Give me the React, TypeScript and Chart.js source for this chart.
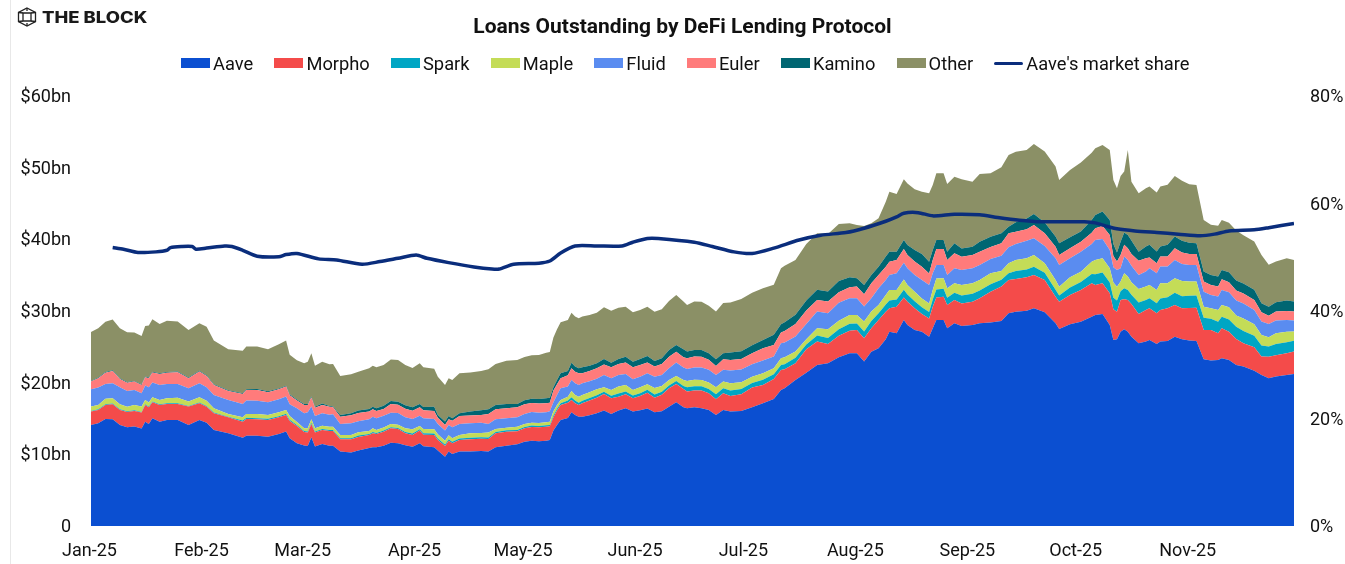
import React, { useEffect, useRef } from "react";
import { Chart, registerables } from "chart.js";

Chart.register(...registerables);

const title = "Loans Outstanding by DeFi Lending Protocol";
const monthLabels = ["Jan-25", "Feb-25", "Mar-25", "Apr-25", "May-25", "Jun-25", "Jul-25", "Aug-25", "Sep-25", "Oct-25", "Nov-25"];
const monthStartDays = [0, 31, 59, 90, 120, 151, 181, 212, 243, 273, 304];

// Days since 1 Jan 2025
const days = [
  0,2,4,6,8,10,12,14,15,16,17,19,21,24,27,30,32,34,38,42,43,46,49,52,54,
  55,57,59,60,61,62,64,66,67,69,72,74,77,78,79,81,83,85,87,89,91,92,95,96,98,99,100,102,105,108,
  110,112,115,118,120,122,124,126,127,128,129,130,132,133,134,135,136,138,140,142,144,146,148,150,152,154,156,158,160,162,164,
  165,167,169,171,173,175,177,180,183,186,189,191,192,195,198,201,204,207,210,212,214,216,218,
  220,221,223,225,226,228,230,232,233,234,236,237,239,241,244,246,249,252,254,256,259,261,264,267,268,271,274,277,
  278,280,282,283,284,285,286,287,288,290,292,293,295,296,298,300,302,304,306,308,310,312,313,315,317,319,322,324,326,328,331,333,
];

const aave = [
  14.1,14.33,14.93,14.89,14.1,13.77,13.87,13.59,14.56,14.24,15.03,14.56,14.8,14.8,14.1,14.8,14.42,13.4,12.93,12.33,12.61,12.61,12.47,12.84,13.17,
  12.24,11.54,11.22,11.17,12.38,11.08,11.45,11.21,11.21,10.38,10.24,10.52,10.89,10.98,10.98,11.21,11.63,11.54,11.26,11.07,11.54,11.12,10.98,10.52,9.68,10.38,10.05,10.38,10.38,10.47,
  10.38,10.98,11.21,11.4,11.77,11.91,11.82,11.91,12.0,13.31,14.1,14.8,15.07,15.86,15.49,15.26,15.26,15.45,15.72,16.1,15.63,16.1,16.42,15.96,16.14,16.38,15.86,16.0,16.65,17.26,16.56,
  16.43,16.57,16.43,16.2,15.5,16.2,15.96,16.05,16.57,17.13,17.73,18.99,19.22,20.38,21.4,22.47,22.7,23.54,24.1,24.1,22.94,24.33,24.8,
  26.05,27.11,26.88,28.74,28.04,27.35,27.11,26.41,27.58,28.74,28.74,27.58,28.28,27.9,28.04,28.28,28.38,28.61,29.68,29.91,30.05,30.38,29.82,28.28,27.49,28.15,28.51,29.21,
  29.45,29.59,28.05,25.96,26.05,27.12,27.45,27.12,26.42,25.49,25.73,25.96,25.4,25.73,25.82,26.42,26.05,25.87,25.82,23.26,23.08,23.17,23.4,23.17,22.47,22.24,21.68,21.08,20.61,20.85,21.08,21.22,
];

const morpho = [
  1.86,1.86,1.95,2.09,2.09,2.14,2.19,2.23,2.33,2.33,2.23,2.33,2.23,2.23,2.56,2.33,2.23,2.33,2.23,2.23,2.33,2.28,2.33,2.33,2.33,
  2.42,2.42,1.91,1.86,1.86,1.95,1.95,2.05,2.05,1.72,1.86,1.91,1.81,1.95,1.86,1.95,2.0,2.0,1.67,1.63,1.77,1.63,1.72,1.49,1.49,1.53,1.49,1.63,1.72,1.72,
  1.77,1.95,1.95,1.81,1.86,1.91,1.95,1.95,1.91,1.86,2.0,2.09,2.14,1.72,1.63,1.63,1.86,2.05,2.19,2.33,2.19,1.95,1.95,1.86,2.0,2.23,2.05,2.33,2.56,2.56,2.56,
  2.33,2.33,2.46,2.33,2.19,2.33,2.19,2.33,2.74,2.56,2.79,2.79,2.65,2.33,3.26,3.26,2.7,3.02,3.16,3.26,3.26,3.26,3.95,
  3.86,3.26,3.72,3.16,3.26,3.02,2.46,2.56,3.02,3.16,3.26,3.26,3.26,3.16,3.26,3.49,4.3,4.8,4.65,4.56,4.65,4.65,4.51,3.72,3.81,4.09,4.42,4.65,
  4.19,4.28,4.42,4.28,3.86,4.42,4.19,4.42,4.56,4.09,4.42,4.42,4.28,4.42,4.56,4.42,4.32,4.56,4.65,4.09,4.28,3.72,4.19,3.95,3.63,3.26,3.26,2.56,3.02,2.98,3.02,3.12,
];

const spark = [
  .1,.1,.1,.1,.1,.1,.1,.1,.1,.1,.1,.1,.1,.1,.1,.1,.1,.1,.1,.15,.15,.15,.15,.15,.15,
  .15,.12,.12,.15,.15,.15,.15,.15,.15,.15,.15,.2,.15,.2,.15,.15,.15,.15,.2,.2,.2,.2,.2,.2,.2,.2,.2,.2,.2,.2,
  .2,.2,.2,.2,.2,.2,.2,.2,.2,.25,.25,.25,.3,.4,.4,.3,.35,.35,.35,.3,.35,.45,.4,.4,.4,.4,.45,.4,.4,.4,.4,
  .6,.6,.6,.6,.7,.7,.75,.75,.65,.7,.65,.7,.7,.75,.65,.85,.85,.9,.95,.9,.95,1.0,.95,
  1.0,1.1,1.0,1.05,1.0,1.0,.95,.9,1.0,1.1,1.1,1.0,1.0,1.1,1.1,1.1,1.05,.95,.95,1.1,1.1,1.15,1.0,.95,.85,1.05,1.1,1.3,
  1.5,1.5,1.5,1.6,1.55,1.2,1.55,1.4,1.3,1.6,1.4,1.4,1.4,1.6,1.55,1.7,1.7,1.7,1.7,1.7,1.55,1.6,1.6,1.7,1.7,1.7,1.6,1.55,1.4,1.55,1.55,1.5,
];

const maple = [
  .6,.6,.78,.74,.69,.64,.74,.74,.6,.55,.6,.6,.69,.78,.6,.74,.74,.6,.37,.45,.55,.59,.55,.55,.55,
  .55,.44,.39,.45,.5,.45,.45,.45,.45,.45,.45,.45,.41,.5,.41,.45,.45,.45,.5,.59,.45,.59,.59,.59,.54,.54,.5,.5,.64,.59,
  .68,.4,.36,.45,.4,.4,.4,.4,.45,.59,.54,.45,.54,.86,.76,.86,.81,.81,.81,.63,.81,.95,.9,.76,.81,.76,.9,.81,.76,.72,.86,
  .89,.89,.89,.89,.97,.93,1.02,.92,.88,.93,.84,.93,.97,.88,.75,1.01,1.2,1.19,1.24,1.19,1.38,1.33,1.14,
  1.33,1.46,1.33,1.46,1.33,1.33,1.24,1.19,1.33,1.55,1.46,1.33,1.33,1.46,1.46,1.46,1.53,1.22,1.38,1.55,1.55,1.64,1.33,1.38,1.24,1.41,1.46,1.72,
  1.99,1.99,1.99,2.12,1.94,1.36,2.08,1.86,1.72,1.89,1.86,1.86,1.86,2.12,1.94,2.02,2.11,1.97,1.93,1.56,1.47,1.66,1.66,1.69,1.56,1.74,1.61,1.47,1.3,1.52,1.47,1.29,
];

const fluid = [
  2.42,2.42,2.05,2.09,2.37,2.19,2.09,1.86,2.0,2.14,2.05,2.09,2.0,1.91,1.86,1.95,1.86,1.86,1.95,1.86,1.86,1.86,1.77,1.81,1.86,
  1.63,1.91,2.09,2.23,1.77,1.72,1.72,1.67,1.72,1.53,1.63,1.53,1.63,1.63,1.63,1.63,1.58,1.63,1.53,1.44,1.44,1.49,1.44,1.44,1.4,1.44,1.53,1.53,1.4,1.44,
  1.21,1.35,1.3,1.3,1.4,1.49,1.44,1.4,1.44,1.26,1.4,1.63,1.4,1.53,1.63,1.63,1.63,1.53,1.49,1.72,1.63,1.63,1.53,1.49,1.49,1.53,1.58,1.53,1.63,1.86,1.72,
  1.67,1.72,1.72,1.77,1.72,1.63,1.77,1.77,1.72,1.77,1.63,2.09,2.05,2.09,2.14,2.33,2.23,2.51,2.33,2.33,2.09,1.86,2.33,
  2.09,2.09,2.33,2.33,2.33,2.33,2.56,2.56,2.33,1.86,1.86,1.86,2.09,2.09,2.09,2.09,2.0,2.14,2.23,2.23,2.46,2.33,2.42,3.02,3.02,2.65,2.79,2.46,
  2.79,2.7,2.56,2.14,2.33,1.86,2.33,2.33,2.33,1.95,2.09,2.33,2.33,2.33,2.33,2.56,2.37,2.33,2.33,2.09,1.86,1.86,2.09,2.09,2.09,2.09,2.0,1.86,1.86,1.77,1.63,1.53,
];

const euler = [
  1.07,1.3,1.58,1.72,1.16,1.16,1.16,1.16,1.16,1.26,1.4,1.53,1.58,1.63,1.4,1.63,1.58,1.4,1.26,1.4,1.49,1.49,1.4,1.4,1.4,
  1.26,1.07,1.16,1.02,1.26,1.16,1.16,1.12,.98,1.02,1.12,1.16,1.07,1.02,1.02,.93,1.21,1.16,1.21,1.16,1.16,1.12,1.12,.88,.79,.79,.93,1.12,1.07,1.07,
  1.4,1.4,1.4,1.4,1.35,1.26,1.3,1.26,1.21,1.63,1.49,1.4,1.58,1.63,1.63,1.63,1.4,1.44,1.44,1.44,1.53,1.53,1.63,1.67,1.63,1.53,1.4,1.53,1.63,1.53,1.44,
  1.49,1.53,1.53,1.4,1.26,1.49,1.49,1.49,1.53,1.72,1.63,1.49,1.63,1.77,1.86,1.63,1.63,1.44,1.53,1.63,1.72,2.09,1.86,
  1.86,1.86,1.86,1.91,1.86,1.86,1.86,1.63,1.86,2.23,2.23,2.09,2.09,1.86,1.86,1.86,1.67,1.72,1.95,1.72,1.58,1.86,1.77,1.63,1.4,1.4,1.4,1.58,
  1.63,1.81,2.09,1.58,1.16,1.86,1.63,1.63,1.63,2.0,1.86,1.49,1.4,1.4,1.4,1.63,1.63,1.53,1.53,1.4,1.4,1.4,1.49,1.4,1.4,1.4,1.4,1.3,1.16,1.26,1.26,1.26,
];

const kamino = [
  .1,.1,.1,.1,.1,.1,.1,.1,.1,.1,.1,.1,.1,.1,.1,.1,.1,.1,.1,.1,.1,.12,.12,.12,.12,
  .14,.14,.14,.14,.14,.14,.23,.1,.1,.23,.28,.33,.37,.37,.37,.47,.42,.42,.47,.47,.47,.47,.6,.37,.47,.47,.33,.37,.56,.65,
  .65,.6,.6,.47,.56,.6,.6,.7,.7,.47,.6,.7,.6,.79,.7,.7,.84,.74,.7,.79,.65,.7,.79,.79,.84,.88,.79,.79,.93,.93,1.12,
  .93,.93,.93,.93,.93,.84,1.02,1.07,1.12,1.16,1.4,1.16,1.21,1.26,1.4,1.4,1.4,1.58,1.4,1.16,1.3,1.16,1.16,
  1.4,1.4,1.16,1.26,1.4,1.63,1.77,1.63,1.4,1.26,1.26,1.16,1.4,1.16,1.16,1.4,1.44,1.4,.93,1.3,1.53,1.53,1.49,1.4,1.63,1.53,1.4,1.77,
  1.86,2.0,2.09,1.67,1.26,1.86,1.72,1.86,1.86,1.26,1.63,1.77,1.63,1.4,1.63,1.63,1.63,1.58,1.49,1.4,1.4,1.4,1.3,1.4,1.4,1.4,1.4,1.26,1.26,1.3,1.44,1.4,
];

const other = [
  6.83,6.88,7.01,7.1,6.97,6.92,6.74,6.74,7.06,7.25,7.34,6.88,7.15,6.97,6.64,6.64,6.78,6.08,5.71,5.95,5.95,5.93,5.88,6.16,6.3,
  5.49,5.49,5.67,5.91,6.05,5.72,5.81,5.81,5.95,5.44,5.44,5.44,5.67,5.72,5.72,5.67,5.81,5.81,5.63,5.49,5.67,5.53,5.3,5.35,5.12,5.25,5.35,5.58,5.44,5.49,
  5.58,5.72,6.05,6.14,6.05,6.05,6.14,6.37,6.37,6.93,7.07,7.11,7.11,6.98,6.98,6.98,7.07,7.07,7.07,7.21,7.25,7.16,6.98,6.88,6.84,6.88,6.88,6.84,6.84,6.98,6.65,
  6.51,6.74,6.74,6.6,6.65,6.98,6.98,7.3,7.35,7.21,6.98,7.81,7.9,7.67,7.9,7.9,8.04,7.95,7.53,7.44,8.21,7.2,6.74,
  7.67,8.37,8.05,8.46,8.58,8.46,8.7,9.54,9.06,9.31,9.3,9.44,9.3,9.64,9.08,9.44,8.84,9.21,10.0,9.86,9.53,9.77,9.9,9.77,8.84,9.39,9.63,9.39,
  9.3,9.3,9.77,8.93,8.97,9.16,8.51,11.86,8.23,8.14,8.14,8.14,8.23,8.37,8.37,8.46,8.37,8.14,8.14,7.21,6.98,7.07,6.98,6.93,6.98,6.74,6.74,6.74,5.86,5.67,5.91,5.81,
];

const shareDays = [6,9,13,18,21,22,25,28,29,32,37,39,42,46,52,54,57,63,68,75,80,85,90,93,99,106,111,113,117,124,127,130,134,140,147,150,154,157,167,172,178,183,189,196,202,209,214,220,223,225,229,233,239,246,251,257,263,270,275,278,281,284,289,295,301,307,311,315,322,326,333];
const shareValues = [51.8,51.5,50.9,51.0,51.3,51.8,52.0,52.0,51.5,51.7,52.1,52.0,51.3,50.2,50.1,50.5,50.7,49.7,49.5,48.7,49.2,49.8,50.4,49.8,49.0,48.2,47.8,47.8,48.7,48.9,49.3,50.8,52.1,52.1,52.1,52.8,53.5,53.5,52.8,52.0,51.0,50.7,51.7,53.2,54.1,54.6,55.4,56.7,57.5,58.2,58.3,57.7,58.0,57.9,57.4,56.9,56.6,56.6,56.6,56.4,55.8,55.3,54.9,54.6,54.3,54.0,54.3,54.9,55.1,55.5,56.3];

const seriesNames = ["Aave", "Morpho", "Spark", "Maple", "Fluid", "Euler", "Kamino", "Other"];
const seriesColors = ["#0B4FD1", "#F44B4A", "#00A6C4", "#C4DC57", "#5A8CF0", "#FF7B7B", "#006672", "#8B9066"];
const seriesValues = [aave, morpho, spark, maple, fluid, euler, kamino, other];
const shareName = "Aave's market share";
const shareColor = "#0A2D7C";

const FONT = "Roboto, sans-serif";

export default function App() {
  const ref = useRef<HTMLCanvasElement>(null);

  useEffect(() => {
    if (!ref.current) return;
    const chart = new Chart(ref.current, {
      type: "line",
      data: {
        datasets: [
          ...seriesNames.map((name, i) => ({
            label: name,
            data: days.map((d, j) => ({ x: d, y: seriesValues[i][j] })),
            yAxisID: "y",
            backgroundColor: seriesColors[i],
            borderColor: seriesColors[i],
            borderWidth: 0,
            pointRadius: 0,
            fill: i === 0 ? "origin" : "-1",
            tension: 0,
            order: 1,
          })),
          {
            label: shareName,
            data: shareDays.map((d, j) => ({ x: d, y: shareValues[j] })),
            yAxisID: "y1",
            backgroundColor: shareColor,
            borderColor: shareColor,
            borderWidth: 3.5,
            pointRadius: 0,
            fill: false,
            tension: 0.25,
            order: 0,
          },
        ],
      },
      options: {
        responsive: false,
        animation: false,
        layout: { padding: { left: 10, top: 96, right: 0, bottom: 0 } },
        plugins: { legend: { display: false }, title: { display: false }, tooltip: { enabled: false } },
        scales: {
          x: {
            type: "linear",
            min: 0,
            max: 333,
            grid: { display: false },
            border: { display: false },
            afterBuildTicks: (s: any) => {
              s.ticks = monthStartDays.map((v) => ({ value: v }));
            },
            afterFit: (s: any) => {
              s.height = 38;
            },
            ticks: {
              autoSkip: false,
              maxRotation: 0,
              padding: 6.5,
              labelOffset: -1.5,
              color: "#111",
              font: { family: FONT, size: 18 },
              callback: (v: any) => monthLabels[monthStartDays.indexOf(Number(v))] ?? "",
            },
          },
          y: {
            stacked: true,
            position: "left",
            min: 0,
            max: 60,
            grid: { display: false },
            border: { display: false },
            afterFit: (s: any) => {
              s.width = 81;
            },
            ticks: {
              stepSize: 10,
              padding: 12,
              labelOffset: 1.5,
              color: "#111",
              font: { family: FONT, size: 18 },
              callback: (v: any) => (Number(v) === 0 ? "0" : `$${v}bn`),
            },
          },
          y1: {
            position: "right",
            min: 0,
            max: 80,
            grid: { display: false },
            border: { display: false },
            afterFit: (s: any) => {
              s.width = 51;
            },
            ticks: {
              stepSize: 20,
              padding: 8,
              labelOffset: 1.5,
              color: "#111",
              font: { family: FONT, size: 18 },
              callback: (v: any) => `${v}%`,
            },
          },
        },
      },
    } as any);
    return () => chart.destroy();
  }, []);

  const legendItems = [
    ...seriesNames.map((n, i) => ({ name: n, color: seriesColors[i], h: 10 })),
    { name: shareName, color: shareColor, h: 3 },
  ];

  return (
    <div style={{ position: "fixed", left: 0, top: 0, width: 1345, height: 564, background: "#fff", fontFamily: FONT, color: "#111", overflow: "hidden" }}>
      <canvas ref={ref} width={1345} height={564} style={{ position: "absolute", left: 0, top: 0, display: "block" }} />
      <div style={{ position: "absolute", left: 10, top: 0, width: 1, height: 564, background: "#e8e8e8" }} />
      <svg width="20" height="20" viewBox="0 0 20 20" style={{ position: "absolute", left: 17, top: 7 }} fill="none" stroke="#222" strokeWidth="1.3">
        <polygon points="10,1 18.5,5.5 18.5,14.5 10,19 1.5,14.5 1.5,5.5" />
        <polygon points="6,6 14,6 14,14 6,14" />
        <path d="M1.5,5.5 L6,6 M18.5,5.5 L14,6 M1.5,14.5 L6,14 M18.5,14.5 L14,14 M10,1 L10,4 M10,16 L10,19" />
      </svg>
      <div style={{ position: "absolute", left: 42, top: 8, fontFamily: "Inter, sans-serif", fontWeight: 800, fontSize: 15.5, lineHeight: "20px", whiteSpace: "nowrap", color: "#1a1a1a", transform: "scaleX(1.19)", transformOrigin: "left center" }}>THE BLOCK</div>
      <div style={{ position: "absolute", left: 0, width: 1365, top: 13, textAlign: "center", fontWeight: 700, fontSize: 21, lineHeight: "26px", whiteSpace: "nowrap", color: "#111" }}>{title}</div>
      <div style={{ position: "absolute", left: 181, top: 51, height: 24, display: "flex", alignItems: "center", gap: 21.25, whiteSpace: "nowrap", fontSize: 18.3 }}>
        {legendItems.map((it) => (
          <div key={it.name} style={{ display: "flex", alignItems: "center", gap: 3 }}>
            <span style={{ display: "inline-block", width: 29, height: it.h, background: it.color, borderRadius: it.h === 3 ? 2 : 0 }} />
            <span>{it.name}</span>
          </div>
        ))}
      </div>
    </div>
  );
}
